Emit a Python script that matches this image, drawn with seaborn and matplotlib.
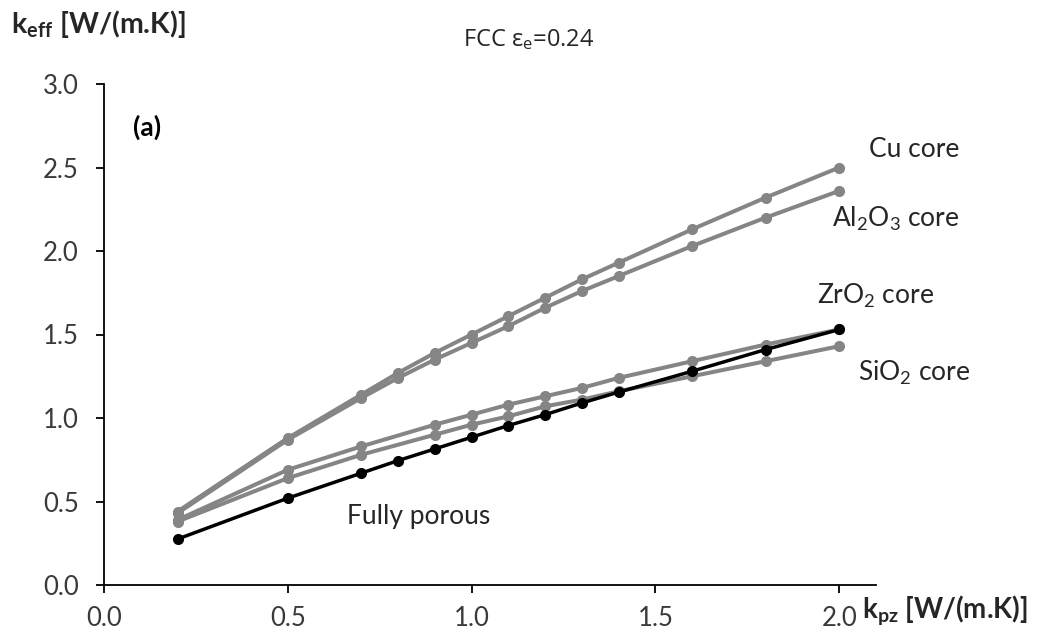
import matplotlib
matplotlib.use("Agg")
import matplotlib.pyplot as plt
import seaborn as sns
import pandas as pd
import numpy as np

# ---- data ----
x_full = [0.2, 0.5, 0.7, 0.8, 0.9, 1.0, 1.1, 1.2, 1.3, 1.4, 1.6, 1.8, 2.0]
x_mid = [0.2, 0.5, 0.7, 0.9, 1.0, 1.1, 1.2, 1.3, 1.4, 1.6, 1.8, 2.0]
cu_core = [0.44, 0.88, 1.14, 1.27, 1.39, 1.50, 1.61, 1.72, 1.83, 1.93, 2.13, 2.32, 2.50]
al2o3_core = [0.43, 0.87, 1.12, 1.24, 1.35, 1.45, 1.55, 1.66, 1.76, 1.85, 2.03, 2.20, 2.36]
zro2_core = [0.39, 0.69, 0.83, 0.96, 1.02, 1.08, 1.13, 1.18, 1.24, 1.34, 1.44, 1.53]
sio2_core = [0.38, 0.64, 0.78, 0.90, 0.96, 1.01, 1.07, 1.11, 1.16, 1.25, 1.34, 1.43]
fully_porous = [0.275, 0.52, 0.67, 0.745, 0.815, 0.885, 0.955, 1.02, 1.09, 1.155, 1.28, 1.41, 1.53]

x_ticks = [0.0, 0.5, 1.0, 1.5, 2.0]
y_ticks = [0.0, 0.5, 1.0, 1.5, 2.0, 2.5, 3.0]

series = [
    ("Cu core", x_full, cu_core),
    ("Al2O3 core", x_full, al2o3_core),
    ("ZrO2 core", x_mid, zro2_core),
    ("SiO2 core", x_mid, sio2_core),
    ("Fully porous", x_full, fully_porous),
]
df = pd.concat(
    [pd.DataFrame({"kpz": xs, "keff": ys, "series": name}) for name, xs, ys in series],
    ignore_index=True,
)

sns.set_style("white")
plt.rcParams["font.family"] = ["Lato", "DejaVu Sans"]
plt.rcParams["mathtext.fontset"] = "custom"
plt.rcParams["mathtext.rm"] = "Lato"
plt.rcParams["mathtext.it"] = "Lato"
plt.rcParams["mathtext.bf"] = "Lato:bold"
plt.rcParams["mathtext.default"] = "regular"

W, H = 1044, 639
fig = plt.figure(figsize=(W / 100, H / 100), dpi=100)
ax = fig.add_axes([104 / W, 1 - 585 / H, (876 - 104) / W, (585 - 84) / H])

grey = "#858585"
for name in ["Cu core", "Al2O3 core", "ZrO2 core", "SiO2 core"]:
    sub = df[df["series"] == name]
    sns.lineplot(data=sub, x="kpz", y="keff", ax=ax, color=grey, lw=2.9,
                 marker="o", markersize=8, markeredgewidth=0, estimator=None,
                 sort=False, zorder=3)
sub = df[df["series"] == "Fully porous"]
sns.lineplot(data=sub, x="kpz", y="keff", ax=ax, color="black", lw=2.5,
             marker="o", markersize=8, markeredgewidth=0, estimator=None,
             sort=False, zorder=4)

ax.set_xlim(0, 2.1)
ax.set_ylim(0, 3.0)
ax.set_xticks(x_ticks)
ax.set_yticks(y_ticks)
ax.set_xticklabels([f"{v:.1f}" for v in x_ticks])
ax.set_yticklabels([f"{v:.1f}" for v in y_ticks])
ax.set_xlabel("")
ax.set_ylabel("")
for s in ["top", "right"]:
    ax.spines[s].set_visible(False)
for s in ["left", "bottom"]:
    ax.spines[s].set_color("black")
    ax.spines[s].set_linewidth(1.3)
ax.tick_params(axis="both", direction="out", length=6, width=1.3, color="black",
               labelsize=18.5, labelcolor="#3a3a3a", left=True, bottom=True)
ax.tick_params(axis="y", pad=12)
ax.tick_params(axis="x", pad=9)

txt = "#262626"
fs = 19
ax.text(0.079, 2.74, "(a)", fontsize=fs, fontweight="bold", color="black", va="center")
ax.text(2.08, 2.61, "Cu core", fontsize=fs, color=txt, va="center")
ax.text(1.98, 2.19, r"Al$_2$O$_3$ core", fontsize=fs, color=txt, va="center")
ax.text(1.94, 1.73, r"ZrO$_2$ core", fontsize=fs, color=txt, va="center")
ax.text(2.05, 1.27, r"SiO$_2$ core", fontsize=fs, color=txt, va="center")
ax.text(0.66, 0.41, "Fully porous", fontsize=fs, color=txt, va="center")

fig.text(463 / W, 1 - 40 / H, "FCC ε$_e$=0.24", fontsize=17, color=txt, va="center",
         family=["Open Sans", "DejaVu Sans"])
fig.text(11 / W, 1 - 24 / H, r"k$_{\mathbf{eff}}$ [W/(m.K)]", fontsize=20.5,
         fontweight="bold", color=txt, va="center")
fig.text(862 / W, 1 - 610 / H, r"k$_{\mathbf{pz}}$ [W/(m.K)]", fontsize=20,
         fontweight="bold", color=txt, va="center")

fig.savefig("out.png", dpi=100)
